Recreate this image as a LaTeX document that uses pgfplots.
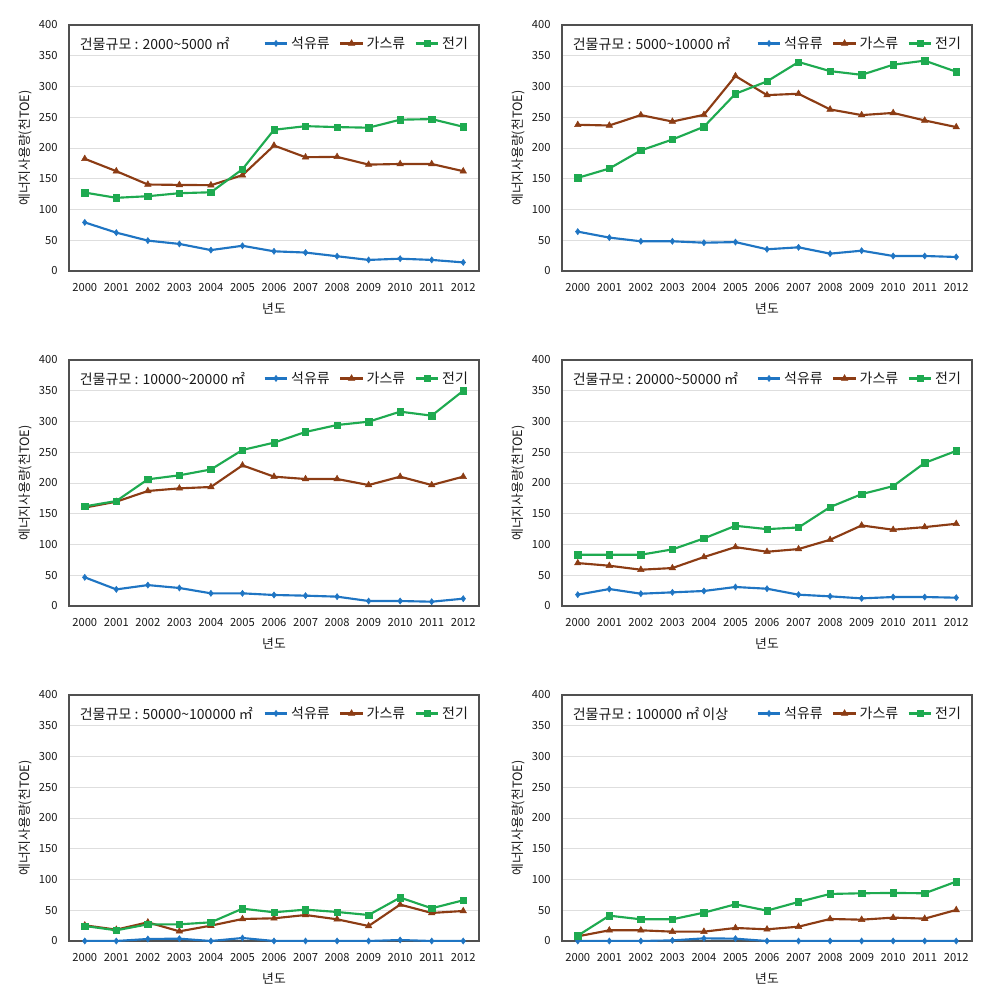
\documentclass[border=0pt]{standalone}
\usepackage{fontspec}
\setmainfont{Noto Sans CJK KR}
\usepackage{pgfplots}
\usepackage{pgfplotstable}
\pgfplotsset{compat=1.18}
\definecolor{cblue}{RGB}{31,117,195}
\definecolor{cbrown}{RGB}{140,60,20}
\definecolor{cgreen}{RGB}{30,170,80}
\definecolor{cgrid}{RGB}{222,222,222}
\definecolor{cframe}{RGB}{80,80,80}

\pgfplotstableread{
x oil gas elec
0 79 182.4 127.5
1 62.4 162.3 119
2 49.4 140.6 121.6
3 44 140 126.5
4 34 139.5 128
5 41 155.8 165.5
6 32 204 229.6
7 30 185 235.5
8 24 185.6 234
9 18 173 233
10 20 174 246
11 18 174 247
12 14 162.3 234.5
}\tA
\pgfplotstableread{
x oil gas elec
0 64 237.7 151.4
1 54.3 236.6 166.6
2 48.3 253.5 196
3 48.3 243 213.8
4 46 254 234.5
5 47 317 288.2
6 35.3 286 308.3
7 38.5 288.2 339.8
8 28.2 262.7 325
9 33 253.5 319
10 24.4 257 335.4
11 24.4 244.8 342
12 22.8 234 324
}\tB
\pgfplotstableread{
x oil gas elec
0 46.6 160 162
1 27 169.6 170.7
2 34 187 206
3 29.3 191.3 212.5
4 20.6 193.5 222
5 20.6 228.7 253.7
6 17.9 210.3 265.6
7 16.8 206.5 283
8 15.2 206.5 294.3
9 8.1 196.7 299.7
10 8.1 210.3 316
11 7 196.7 309.5
12 11.9 210.3 350
}\tC
\pgfplotstableread{
x oil gas elec
0 18.4 69.8 83.4
1 27.6 65.5 83.4
2 20 59 83.4
3 22.2 61.7 92
4 24.4 79.6 109.9
5 30.9 95.8 130.4
6 28.1 88.2 125
7 18.4 92.6 127.7
8 15.7 107.7 160.8
9 12.4 131 181.9
10 14.6 124 194.9
11 14.6 128.3 232.7
12 13.5 133.7 252.2
}\tD
\pgfplotstableread{
x oil gas elec
0 0 25.5 24.4
1 0 18.5 17.4
2 3.3 30.4 27.1
3 3.8 15.7 27.1
4 0 25 30.4
5 4.9 35.8 52.6
6 0 36.9 46.7
7 0 42.3 51
8 0 35.3 47.2
9 0 24.4 42.3
10 1.6 59.2 70.6
11 0 45.6 53.2
12 0 48.8 66.2
}\tE
\pgfplotstableread{
x oil gas elec
0 0 7.6 8.7
1 0 17.4 41.2
2 0 17.4 35.3
3 1 15.2 35.3
4 4.3 15.2 46.1
5 3.8 21.2 59.7
6 0 19 49.4
7 0 23.3 63.5
8 0 35.8 76.5
9 0 34.7 77.6
10 0 38 78.2
11 0 36.4 77.6
12 0 50.5 96.6
}\tF

\pgfplotsset{
 panel/.style={
  scale only axis, width=307.5pt, height=184.5pt, anchor=north west,
  xmin=-0.5, xmax=12.5, ymin=0, ymax=400,
  xtick={0,...,12},
  xticklabels={2000,2001,2002,2003,2004,2005,2006,2007,2008,2009,2010,2011,2012},
  ytick={0,50,...,400},
  ymajorgrids, grid style={cgrid, line width=0.6pt},
  axis line style={cframe, line width=0.8pt},
  major tick length=0pt,
  tick label style={font=\fontsize{8.4}{9}\selectfont, text=black!90},
  /pgf/number format/assume math mode=true,
  xticklabel style={yshift=-6pt},
  yticklabel style={xshift=-5pt},
  xlabel={년도}, ylabel={에너지사용량(천TOE)},
  label style={font=\fontsize{9.6}{11}\selectfont, text=black!90},
  xlabel style={at={(axis description cs:0.5,-0.154)}, anchor=center},
  ylabel style={at={(axis description cs:-0.107,0.5)}, anchor=center},
  legend style={at={(0.99,0.925)}, anchor=east, draw=none, fill=none,
    font=\fontsize{10.5}{12}\selectfont, text=black!90, legend columns=3,
    /tikz/every even column/.append style={column sep=5pt},
    /tikz/every odd column/.append style={column sep=0pt}},
  legend cell align=left,
 },
 soil/.style={cblue, line width=1.6pt, mark=diamond*, mark size=2.3pt, mark options={line width=0.4pt, solid}},
 sgas/.style={cbrown, line width=1.6pt, mark=triangle*, mark size=2.8pt, mark options={line width=0.4pt, solid}},
 selec/.style={cgreen, line width=1.6pt, mark=square*, mark size=2.4pt, mark options={line width=0.4pt, solid}},
}
\newcommand{\panelplots}[2]{%
  \addplot[soil] table[x=x,y=oil] {#1};
  \addplot[sgas] table[x=x,y=gas] {#1};
  \addplot[selec] table[x=x,y=elec] {#1};
  \legend{석유류,가스류,전기}
  \node[anchor=west, font=\fontsize{10.5}{12}\selectfont, text=black!90] at (rel axis cs:0.015,0.925) {#2};
}

\begin{document}
\begin{tikzpicture}
\path[use as bounding box] (0,0) rectangle (746.25pt,-748.5pt);
\begin{axis}[panel, at={(51.75pt,-18.75pt)}]
\panelplots{\tA}{건물규모 : 2000\textasciitilde 5000 ㎡}
\end{axis}
\begin{axis}[panel, at={(421.5pt,-18.75pt)}]
\panelplots{\tB}{건물규모 : 5000\textasciitilde 10000 ㎡}
\end{axis}
\begin{axis}[panel, at={(51.75pt,-270pt)}]
\panelplots{\tC}{건물규모 : 10000\textasciitilde 20000 ㎡}
\end{axis}
\begin{axis}[panel, at={(421.5pt,-270pt)}]
\panelplots{\tD}{건물규모 : 20000\textasciitilde 50000 ㎡}
\end{axis}
\begin{axis}[panel, at={(51.75pt,-521.25pt)}]
\panelplots{\tE}{건물규모 : 50000\textasciitilde 100000 ㎡}
\end{axis}
\begin{axis}[panel, at={(421.5pt,-521.25pt)}]
\panelplots{\tF}{건물규모 : 100000 ㎡ 이상}
\end{axis}
\end{tikzpicture}
\end{document}
